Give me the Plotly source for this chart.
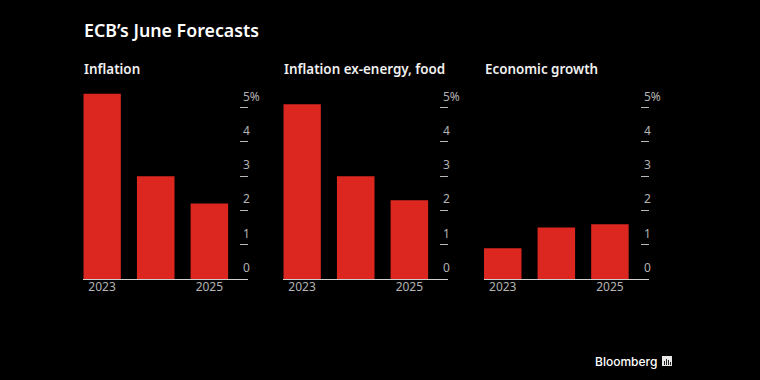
import plotly.graph_objects as go

W, H = 760, 380
years = [2023, 2024, 2025]
inflation = [5.4, 3.0, 2.2]
core = [5.1, 3.0, 2.3]
growth = [0.9, 1.5, 1.6]
panel_titles = ["Inflation", "Inflation ex-energy, food", "Economic growth"]
y_ticks = [1, 2, 3, 4, 5]
y_labels = ["0", "1", "2", "3", "4", "5%"]
x_ticks = [2023, 2025]
title = "ECB’s June Forecasts"

FONT = "Noto Sans"
RED = "#dc2620"
GREY = "#b3b3b3"
panels = [(83.3, 248.0), (283.3, 448.0), (484.0, 648.5)]
series = [inflation, core, growth]
base_y, top_y = 279.0, 87.0

fig = go.Figure()
ann = []
for i, ((left, right), vals, name) in enumerate(zip(panels, series, panel_titles)):
    sfx = "" if i == 0 else str(i + 1)
    fig.add_trace(go.Bar(x=years, y=vals, width=0.7, marker=dict(color=RED, line_width=0),
                         xaxis="x" + sfx, yaxis="y" + sfx, showlegend=False))
    fig.update_layout({
        "xaxis" + sfx: dict(domain=[left / W, right / W], range=[2022.65, 2025.72],
                            tickvals=x_ticks, ticks="", showgrid=False, zeroline=False,
                            showline=True, linecolor="#d0d0d0", linewidth=1, ticklabelstandoff=-3,
                            tickfont=dict(family=FONT, size=12, color=GREY),
                            anchor="y" + sfx),
        "yaxis" + sfx: dict(domain=[1 - base_y / H, 1 - top_y / H], range=[0, 5.6],
                            side="right", tickvals=y_ticks, ticks="inside", ticklen=8,
                            tickcolor="#b8b8b8", tickwidth=1, showticklabels=False,
                            showgrid=False, zeroline=False, showline=False,
                            anchor="x" + sfx),
    })
    for v, lab in enumerate(y_labels):
        ann.append(dict(text=lab, xref="x%s domain" % sfx, yref="y" + sfx, x=(right - 7 - left) / (right - left),
                        y=v, yshift=11.5, xanchor="left", yanchor="middle", showarrow=False,
                        font=dict(family=FONT, size=12, color=GREY)))
    ann.append(dict(text=name, xref="paper", yref="paper", x=(left - 1.5) / W, y=1 - 68.5 / H,
                    xanchor="left", yanchor="middle", showarrow=False,
                    font=dict(family=FONT, size=13.4, weight=600, color="#f0f0f0")))

ann.append(dict(text=title, xref="paper", yref="paper", x=82 / W, y=1 - 30 / H,
                xanchor="left", yanchor="middle", showarrow=False,
                font=dict(family=FONT, size=17.8, weight=600, color="#ffffff")))
ann.append(dict(text="Bloomberg", xref="paper", yref="paper", x=659 / W, y=1 - 361 / H,
                xanchor="right", yanchor="middle", showarrow=False,
                font=dict(family="Inter", size=12, weight=500, color="#ffffff")))

def px(x0, y0, x1, y1, color):
    return dict(type="rect", xref="paper", yref="paper", x0=x0 / W, x1=x1 / W,
                y0=1 - y1 / H, y1=1 - y0 / H, fillcolor=color, line_width=0)

shapes = [px(662, 356, 672, 366, "#e8e8e8"), px(664, 361, 665, 365, "#222"),
          px(666, 359, 667, 365, "#222"), px(668, 360, 669, 365, "#222"), px(670, 362, 671, 365, "#222")]

fig.update_layout(width=W, height=H, margin=dict(l=0, r=0, t=0, b=0), paper_bgcolor="#000000",
                  plot_bgcolor="#000000", annotations=ann, shapes=shapes, bargap=0.3)
fig.write_html("out.html", config=dict(displayModeBar=False),
               post_script="document.body.style.margin='0';document.body.style.background='#000';")
